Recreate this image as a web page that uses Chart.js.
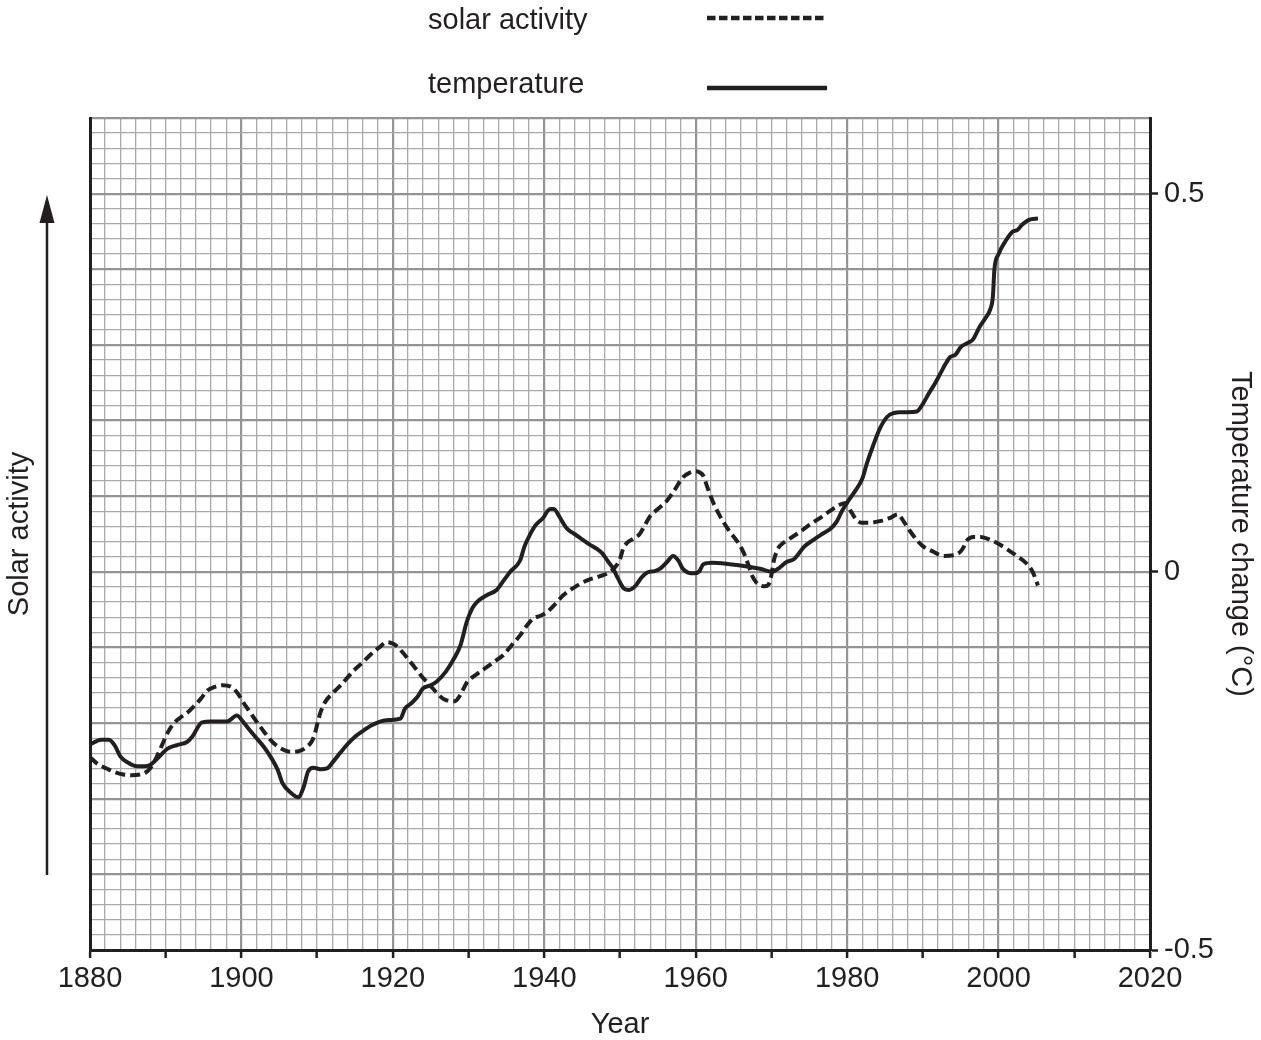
<!DOCTYPE html>
<html>
<head>
<meta charset="utf-8">
<script src="https://cdn.jsdelivr.net/npm/chart.js@4.4.1/dist/chart.umd.min.js"></script>
<style>
  body { margin: 0; background: #fff; }
  #wrap { position: relative; width: 1261px; height: 1040px; }
  #wrap canvas { position: absolute; left: 0; top: 0; }
  .leg { position: absolute; font: 29px "Liberation Sans", Arial, sans-serif; line-height: 29px; color: #231f20; white-space: nowrap; }
  #swatches { position: absolute; left: 0; top: 0; pointer-events: none; }
</style>
</head>
<body>
<div id="wrap">
  <canvas id="chart" width="1261" height="1040"></canvas>
  <div class="leg" style="left:428px; top:4.5px;">solar activity</div>
  <div class="leg" style="left:428px; top:68.5px;">temperature</div>
  <svg id="swatches" width="1261" height="110">
    <line x1="707" y1="18" x2="825" y2="18" stroke="#231f20" stroke-width="4.5" stroke-dasharray="8.5 3.5"/>
    <line x1="707" y1="88" x2="827" y2="88" stroke="#231f20" stroke-width="4.5"/>
  </svg>
</div>
<script>
// Данные
const solarYears = [1880, 1881, 1882.2, 1883.3, 1884.4, 1885.5, 1886.6, 1887.4, 1888, 1888.6, 1889.2, 1890.3, 1891.1, 1891.9, 1893, 1893.9, 1894.7, 1895.5, 1896.5, 1897.5, 1898.8, 1899.6, 1900.2, 1901.1, 1902, 1903.1, 1904.2, 1905.3, 1906.4, 1907.6, 1908.7, 1909.3, 1909.7, 1910.1, 1910.4, 1911, 1912.1, 1913, 1914, 1914.8, 1916, 1917, 1918.2, 1919.2, 1920, 1920.5, 1921.5, 1922.7, 1923.8, 1924.9, 1925.8, 1926.7, 1928.2, 1928.9, 1929.8, 1931, 1932.4, 1933.5, 1934.6, 1935.7, 1936.8, 1937.7, 1938.5, 1939.5, 1940.4, 1941.5, 1942.5, 1943.6, 1944.7, 1946, 1947.3, 1948.7, 1949.5, 1950, 1950.4, 1950.9, 1951.8, 1952.6, 1953.3, 1954, 1955, 1956.2, 1957.2, 1958.3, 1959.2, 1960, 1960.6, 1961, 1961.6, 1962.3, 1963.3, 1964.5, 1965.5, 1966.3, 1967, 1967.4, 1968, 1968.5, 1969.1, 1969.6, 1970, 1970.3, 1970.7, 1971.1, 1972.3, 1973.8, 1975, 1976.4, 1977.8, 1979.1, 1979.8, 1980.5, 1981.2, 1981.9, 1983, 1984.3, 1985.6, 1986.7, 1987.5, 1988.3, 1989.2, 1990, 1991.3, 1992.7, 1994, 1994.9, 1995.4, 1995.7, 1996.7, 1997.6, 1998.5, 1999.8, 2001.1, 2002.4, 2003.7, 2004.5, 2005.2];
const solarValues = [-0.245, -0.254, -0.260, -0.265, -0.268, -0.269, -0.268, -0.265, -0.259, -0.249, -0.236, -0.212, -0.200, -0.193, -0.185, -0.176, -0.167, -0.157, -0.152, -0.150, -0.153, -0.162, -0.172, -0.185, -0.198, -0.213, -0.226, -0.234, -0.238, -0.237, -0.231, -0.224, -0.214, -0.198, -0.187, -0.173, -0.160, -0.151, -0.140, -0.131, -0.120, -0.110, -0.100, -0.093, -0.095, -0.098, -0.109, -0.124, -0.138, -0.150, -0.160, -0.168, -0.171, -0.163, -0.146, -0.136, -0.126, -0.118, -0.110, -0.097, -0.084, -0.071, -0.062, -0.058, -0.053, -0.042, -0.031, -0.023, -0.016, -0.010, -0.006, 0.000, 0.008, 0.017, 0.030, 0.038, 0.044, 0.050, 0.062, 0.074, 0.083, 0.094, 0.108, 0.125, 0.131, 0.133, 0.131, 0.127, 0.110, 0.092, 0.072, 0.053, 0.040, 0.026, 0.008, -0.004, -0.014, -0.018, -0.019, -0.017, -0.004, 0.014, 0.027, 0.034, 0.043, 0.053, 0.062, 0.071, 0.081, 0.089, 0.091, 0.080, 0.069, 0.065, 0.065, 0.067, 0.071, 0.076, 0.066, 0.054, 0.042, 0.034, 0.027, 0.021, 0.022, 0.026, 0.033, 0.040, 0.046, 0.046, 0.044, 0.038, 0.030, 0.021, 0.011, 0.000, -0.018];

const tempYears = [1880, 1881.5, 1882.5, 1883.3, 1884, 1885, 1886.2, 1887.2, 1888, 1889, 1890.2, 1891.5, 1892.8, 1893.5, 1894.8, 1896, 1898.1, 1899.4, 1900.2, 1901, 1902, 1903, 1904, 1904.8, 1905.4, 1906.5, 1907.5, 1908.2, 1908.8, 1909.5, 1910.5, 1911.3, 1912.2, 1913, 1914, 1915, 1916.1, 1917.2, 1918.3, 1919.5, 1921, 1921.6, 1922.4, 1923.2, 1924, 1925, 1925.8, 1927, 1928, 1928.9, 1929.8, 1930.5, 1931.1, 1932.4, 1933.7, 1934.6, 1935.5, 1936.8, 1937.4, 1937.9, 1938.8, 1939.9, 1940.4, 1940.8, 1941.3, 1941.7, 1942.4, 1943, 1944, 1945, 1946, 1947, 1947.7, 1948.4, 1949, 1949.8, 1950.5, 1951.2, 1952, 1952.8, 1953.6, 1954.6, 1955.4, 1956.3, 1957, 1957.7, 1958.3, 1959, 1959.8, 1960.5, 1961, 1962.2, 1964.5, 1966.8, 1968.5, 1970.1, 1971, 1972, 1973, 1973.6, 1974.3, 1975.5, 1976.7, 1977.8, 1978.6, 1979.3, 1980.1, 1981, 1982, 1982.6, 1983.4, 1984.3, 1985.3, 1986.2, 1987, 1988, 1989.2, 1990, 1990.8, 1991.6, 1992.3, 1993, 1993.6, 1994.3, 1995, 1996, 1996.6, 1997.5, 1998.3, 1998.9, 1999.25, 1999.45, 2000, 2000.9, 2001.9, 2002.5, 2003.1, 2004.2, 2005.2];
const tempValues = [-0.228, -0.222, -0.222, -0.230, -0.244, -0.252, -0.257, -0.257, -0.255, -0.246, -0.234, -0.229, -0.225, -0.218, -0.199, -0.198, -0.198, -0.190, -0.198, -0.208, -0.220, -0.232, -0.247, -0.262, -0.279, -0.292, -0.298, -0.285, -0.264, -0.259, -0.261, -0.260, -0.250, -0.240, -0.228, -0.218, -0.210, -0.203, -0.198, -0.196, -0.194, -0.181, -0.174, -0.166, -0.154, -0.150, -0.145, -0.132, -0.116, -0.098, -0.065, -0.048, -0.040, -0.031, -0.024, -0.012, 0.000, 0.015, 0.034, 0.045, 0.061, 0.072, 0.080, 0.083, 0.083, 0.078, 0.066, 0.057, 0.050, 0.043, 0.036, 0.030, 0.024, 0.014, 0.006, -0.010, -0.022, -0.024, -0.019, -0.008, -0.001, 0.001, 0.005, 0.014, 0.021, 0.015, 0.004, -0.001, -0.002, 0.001, 0.010, 0.012, 0.010, 0.007, 0.004, 0.000, 0.005, 0.013, 0.017, 0.024, 0.033, 0.042, 0.050, 0.057, 0.066, 0.080, 0.093, 0.106, 0.123, 0.143, 0.166, 0.189, 0.205, 0.210, 0.211, 0.211, 0.212, 0.222, 0.236, 0.249, 0.262, 0.275, 0.284, 0.287, 0.297, 0.303, 0.307, 0.324, 0.336, 0.347, 0.364, 0.400, 0.420, 0.437, 0.450, 0.452, 0.459, 0.466, 0.467];

const rightTickValues = [-0.5, 0, 0.5];

const ink = '#231f20';
const FONT = '"Liberation Sans", Arial, sans-serif';
Chart.defaults.font.family = FONT;
Chart.defaults.font.size = 29;
Chart.defaults.color = ink;

const minorGrid = '#a9a9a9';
const majorGrid = '#949494';

function isMajorY(v) {
  return Math.abs(v * 10 - Math.round(v * 10)) < 1e-6;
}

// Стрелка "Solar activity" слева
const arrowPlugin = {
  id: 'solarArrow',
  afterDraw(chart) {
    const ctx = chart.ctx;
    ctx.save();
    ctx.strokeStyle = ink;
    ctx.fillStyle = ink;
    ctx.lineWidth = 2.5;
    ctx.beginPath();
    ctx.moveTo(47, 215);
    ctx.lineTo(47, 875);
    ctx.stroke();
    ctx.beginPath();
    ctx.moveTo(47, 195);
    ctx.lineTo(39.5, 223);
    ctx.lineTo(54.5, 223);
    ctx.closePath();
    ctx.fill();
    ctx.restore();
  }
};

new Chart(document.getElementById('chart'), {
  type: 'line',
  data: {
    datasets: [
      {
        label: 'solar activity',
        data: solarYears.map((x, i) => ({ x: x, y: solarValues[i] })),
        yAxisID: 'y',
        borderColor: ink,
        borderWidth: 4,
        borderDash: [10, 5],
        pointRadius: 0,
        cubicInterpolationMode: 'monotone',
        fill: false
      },
      {
        label: 'temperature',
        data: tempYears.map((x, i) => ({ x: x, y: tempValues[i] })),
        yAxisID: 'y2',
        borderColor: ink,
        borderWidth: 4,
        pointRadius: 0,
        cubicInterpolationMode: 'monotone',
        fill: false
      }
    ]
  },
  options: {
    responsive: false,
    animation: false,
    devicePixelRatio: 1,
    layout: { padding: { top: 118, left: 0, right: 0, bottom: 0 } },
    plugins: {
      legend: { display: false },
      tooltip: { enabled: false }
    },
    scales: {
      x: {
        type: 'linear',
        min: 1880,
        max: 2020,
        ticks: {
          stepSize: 2,
          autoSkip: false,
          maxRotation: 0,
          padding: 4,
          callback: v => (v % 20 === 0 ? String(v) : '')
        },
        grid: {
          color: c => (c.tick && c.tick.value % 20 === 0 ? majorGrid : minorGrid),
          lineWidth: c => (c.tick && c.tick.value % 20 === 0 ? 2.2 : 1.3),
          tickLength: 8,
          tickColor: c => (c.tick && c.tick.value % 10 === 0 ? ink : 'rgba(0,0,0,0)'),
          tickWidth: 2.5
        },
        border: { color: ink, width: 3 },
        title: { display: true, text: 'Year', padding: { top: 0, bottom: -2 } },
        afterFit: s => { s.height = 90; }
      },
      y: {
        position: 'left',
        min: -0.5,
        max: 0.6,
        ticks: { display: false, stepSize: 0.02 },
        grid: {
          color: c => (c.tick && isMajorY(c.tick.value) ? majorGrid : minorGrid),
          lineWidth: c => (c.tick && isMajorY(c.tick.value) ? 2.2 : 1.3),
          drawTicks: false
        },
        border: { color: ink, width: 3 },
        title: { display: true, text: 'Solar activity', padding: { top: 3, bottom: 0 } },
        afterFit: s => { s.width = 90; }
      },
      y2: {
        position: 'right',
        min: -0.5,
        max: 0.6,
        afterBuildTicks: s => { s.ticks = rightTickValues.map(v => ({ value: v })); },
        ticks: {
          padding: 6,
          callback: v => String(v)
        },
        grid: {
          drawOnChartArea: false,
          drawTicks: true,
          tickLength: 8,
          tickColor: ink,
          tickWidth: 2.5
        },
        border: { color: ink, width: 3 },
        title: { display: true, text: 'Temperature change (°C)', padding: { top: 4, bottom: 0 } },
        afterFit: s => { s.width = 111; }
      }
    }
  },
  plugins: [arrowPlugin]
});
</script>
</body>
</html>
